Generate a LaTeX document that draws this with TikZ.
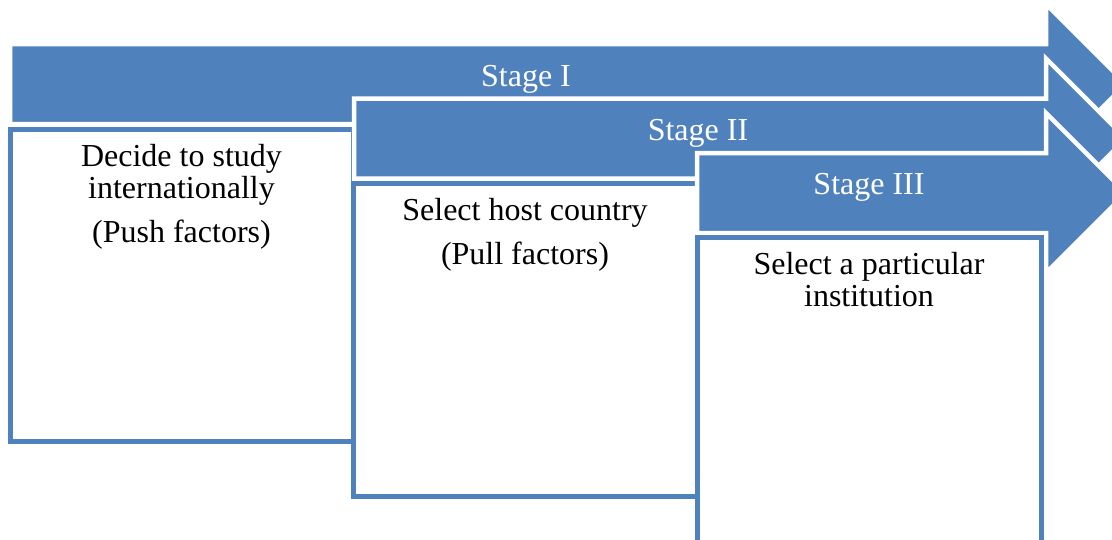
\documentclass[tikz,border=0pt]{standalone}
\usepackage{fontspec}
\setmainfont{Liberation Serif}
\definecolor{sablue}{HTML}{4F81BD}
\begin{document}
\begin{tikzpicture}[x=1pt,y=-1pt,
  stagearrow/.style={fill=sablue, draw=white, line width=4.5pt, line join=miter},
  stagebox/.style={draw=sablue, fill=white, line width=5pt, rectangle, inner sep=0pt, outer sep=0pt, anchor=north west},
  stagelabel/.style={text=white, font=\fontsize{32}{32}\selectfont, anchor=base, inner sep=0pt},
  boxtext/.style={text=black, font=\fontsize{32}{32}\selectfont, align=center, anchor=base, inner sep=0pt}]
\useasboundingbox (0,0) rectangle (1112,539);
\clip (0,0) rectangle (1112,539);
% Stage I
\path[stagearrow] (10,44) -- (1046,44) -- (1046,4) -- (1126,84) -- (1046,164) -- (1046,124) -- (10,124) -- cycle;
\node[stagebox, minimum width=343pt, minimum height=312pt] (b1) at (10,129) {};
% Stage II
\path[stagearrow] (354,98.5) -- (1046,98.5) -- (1046,58.5) -- (1126,138.5) -- (1046,218.5) -- (1046,178.5) -- (354,178.5) -- cycle;
\node[stagebox, minimum width=344pt, minimum height=313pt] (b2) at (353,183) {};
% Stage III
\path[stagearrow] (697,153) -- (1046,153) -- (1046,113) -- (1126,193) -- (1046,273) -- (1046,233) -- (697,233) -- cycle;
\node[stagebox, minimum width=344pt, minimum height=400pt] (b3) at (697,237) {};
% labels
\node[stagelabel] (s1) at (526,86) {Stage I};
\node[stagelabel] (s2) at (698,140) {Stage II};
\node[stagelabel] (s3) at (869,194) {Stage III};
\node[boxtext] (t1) at (181.5,242) {Decide to study\\internationally\\[12pt](Push factors)};
\node[boxtext] (t2) at (525,264) {Select host country\\[12pt](Pull factors)};
\node[boxtext] (t3) at (869,306) {Select a particular\\institution};
\end{tikzpicture}
\end{document}
